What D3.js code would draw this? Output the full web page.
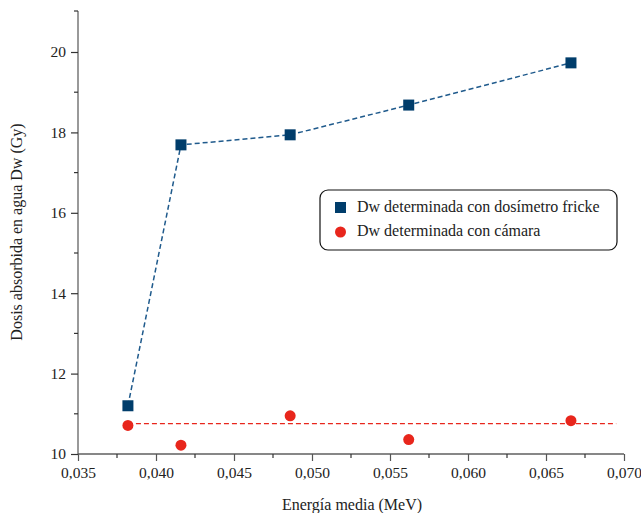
<!DOCTYPE html>
<html lang="es">
<head>
<meta charset="utf-8">
<title>Dosis absorbida</title>
<script src="https://d3js.org/d3.v7.min.js"></script>
<style>
  body { margin: 0; background: #fff; }
</style>
</head>
<body>
<svg class="canvas"></svg>
<script>
// data
var energia = [0.0382, 0.0416, 0.0486, 0.0562, 0.0666];
var dwFricke = [11.20, 17.69, 17.94, 18.68, 19.73];
var dwCamara = [10.71, 10.22, 10.95, 10.36, 10.83];
var refLineX = [0.0382, 0.0695];
var refLineY = [10.755, 10.755];
var xTicks = [0.035, 0.040, 0.045, 0.050, 0.055, 0.060, 0.065, 0.070];
var yTicks = [10, 12, 14, 16, 18, 20];
var legendLabels = ["Dw determinada con dosímetro fricke", "Dw determinada con cámara"];

(function () {
  var width = 641, height = 513;
  var left = 78, right = 624, top = 11, bottom = 454;
  var blue = "#003d6b", red = "#e8261c";
  var serif = "Liberation Serif";

  var svg = d3.select('.canvas').attr('width', width).attr('height', height);

  var x = d3.scaleLinear().domain([0.035, 0.070]).range([left, right]);
  var y = d3.scaleLinear().domain([10, 21.02]).range([bottom, top]);
  var fmt = function (d) { return d3.format('.3f')(d).replace('.', ','); };

  // minor ticks
  var xMinor = d3.range(0.0375, 0.070, 0.005);
  var yMinor = [11, 13, 15, 17, 19];

  var xAxis = svg.append('g').attr('transform', 'translate(0,' + bottom + ')')
    .call(d3.axisBottom(x).tickValues(xTicks).tickFormat(fmt).tickSize(7).tickPadding(6));
  xAxis.select('.domain').attr('stroke', '#111').attr('stroke-width', 1.2).attr('d', 'M' + left + ',0H' + right);
  xAxis.selectAll('.tick line').attr('stroke', '#555').attr('stroke-width', 1.2);
  xAxis.selectAll('text').style('font-family', serif).style('font-size', '15.5px').attr('fill', '#222');
  svg.append('g').selectAll('line').data(xMinor).enter().append('line')
    .attr('x1', x).attr('x2', x).attr('y1', bottom).attr('y2', bottom + 4)
    .attr('stroke', '#333').attr('stroke-width', 1.2);

  var yAxis = svg.append('g').attr('transform', 'translate(' + left + ',0)')
    .call(d3.axisLeft(y).tickValues(yTicks).tickSize(7).tickPadding(5));
  yAxis.select('.domain').attr('stroke', '#555').attr('stroke-width', 1.2).attr('d', 'M0,' + top + 'V' + bottom);
  yAxis.selectAll('.tick line').attr('stroke', '#333').attr('stroke-width', 1.2);
  yAxis.selectAll('text').style('font-family', serif).style('font-size', '15.5px').attr('fill', '#222');
  svg.append('g').selectAll('line').data(yMinor).enter().append('line')
    .attr('x1', left - 4).attr('x2', left).attr('y1', y).attr('y2', y)
    .attr('stroke', '#333').attr('stroke-width', 1.2);
  svg.append('line').attr('x1', left - 4).attr('x2', left).attr('y1', top).attr('y2', top)
    .attr('stroke', '#333').attr('stroke-width', 1.2);

  // axis titles
  svg.append('text').attr('x', 352).attr('y', 510).attr('text-anchor', 'middle')
    .style('font-family', serif).style('font-size', '16px').attr('fill', '#222')
    .text('Energía media (MeV)');
  svg.append('text').attr('transform', 'translate(22,232) rotate(-90)').attr('text-anchor', 'middle')
    .style('font-family', serif).style('font-size', '16px').attr('fill', '#222')
    .text('Dosis absorbida en agua Dw (Gy)');

  // lines
  var fricke = energia.map(function (e, i) { return [e, dwFricke[i]]; });
  var camara = energia.map(function (e, i) { return [e, dwCamara[i]]; });
  var ref = refLineX.map(function (e, i) { return [e, refLineY[i]]; });
  var line = d3.line().x(function (d) { return x(d[0]); }).y(function (d) { return y(d[1]); });

  svg.append('path').datum(ref).attr('d', line).attr('fill', 'none')
    .attr('stroke', red).attr('stroke-width', 1.3).attr('stroke-dasharray', '5,3');
  svg.append('path').datum(fricke).attr('d', line).attr('fill', 'none')
    .attr('stroke', '#1f5a8c').attr('stroke-width', 1.5).attr('stroke-dasharray', '5,3');

  // markers
  var sq = 11;
  svg.append('g').selectAll('rect').data(fricke).enter().append('rect')
    .attr('x', function (d) { return x(d[0]) - sq / 2; })
    .attr('y', function (d) { return y(d[1]) - sq / 2; })
    .attr('width', sq).attr('height', sq).attr('fill', blue);
  svg.append('g').selectAll('circle').data(camara).enter().append('circle')
    .attr('cx', function (d) { return x(d[0]); })
    .attr('cy', function (d) { return y(d[1]); })
    .attr('r', 5.5).attr('fill', red);

  // legend
  var lg = svg.append('g').attr('transform', 'translate(320,190)');
  lg.append('rect').attr('width', 297).attr('height', 60).attr('rx', 8).attr('ry', 8)
    .attr('fill', '#fff').attr('stroke', '#111').attr('stroke-width', 1.2);
  lg.append('rect').attr('x', 15).attr('y', 12).attr('width', 11).attr('height', 11).attr('fill', blue);
  lg.append('circle').attr('cx', 20.5).attr('cy', 42).attr('r', 5.5).attr('fill', red);
  lg.selectAll('text.lab').data(legendLabels).enter().append('text').attr('class', 'lab')
    .attr('x', 37).attr('y', function (d, i) { return 22 + i * 24; })
    .style('font-family', serif).style('font-size', '16px').attr('fill', '#222')
    .text(function (d) { return d; });
})();
</script>
</body>
</html>
